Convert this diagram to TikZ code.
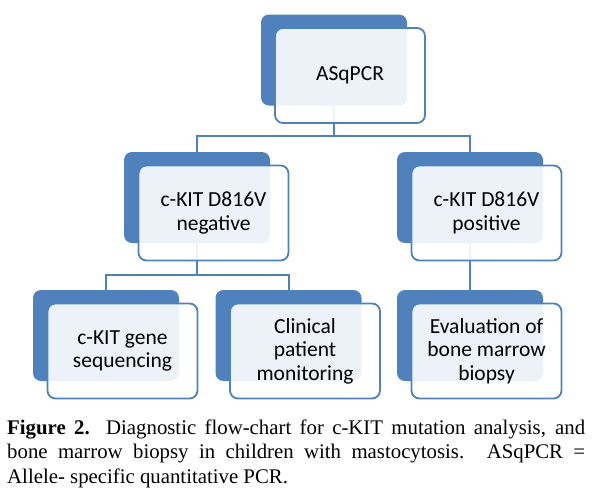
\documentclass[tikz,border=0pt]{standalone}
\usepackage{fontspec}
\setmainfont{Liberation Serif}
\newfontfamily\boxfont{Carlito}
\definecolor{accblue}{HTML}{4F81BD}
\begin{document}
\begin{tikzpicture}[x=1pt,y=-1pt,
  backbox/.style={fill=accblue, draw=none, rounded corners=8pt,
    minimum width=146pt, minimum height=91pt, inner sep=0pt},
  frontbox/.style={fill=white, fill opacity=0.9, text opacity=1,
    draw=accblue, line width=1.8pt, rounded corners=8pt,
    minimum width=150pt, minimum height=95pt, inner sep=0pt, align=center,
    font=\boxfont\fontsize{21.5}{23.5}\selectfont},
  link/.style={draw=accblue, line width=2pt}]
\useasboundingbox (0,0) rectangle (596,488);
% back boxes
\node[backbox] (aB) at (334,60) {};
\node[backbox] (nB) at (197,197.5) {};
\node[backbox] (pB) at (470,197.5) {};
\node[backbox] (sB) at (106,335.5) {};
\node[backbox] (cB) at (288.5,335.5) {};
\node[backbox] (eB) at (470,335.5) {};
% connectors
\coordinate (j1) at (334,136);
\coordinate (j2) at (197,275);
\draw[link] (aB.south) -- (j1) -| (nB.north);
\draw[link] (j1) -| (pB.north);
\draw[link] (nB.south) -- (j2) -| (sB.north);
\draw[link] (j2) -| (cB.north);
\draw[link] (pB.south) -- (eB.north);
% front boxes
\node[frontbox] (a) at (350,75.5) {ASqPCR};
\node[frontbox] (n) at (213.5,213) {c-KIT D816V\\negative};
\node[frontbox] (p) at (486.5,213) {c-KIT D816V\\positive};
\node[frontbox] (s) at (122.5,351) {c-KIT gene\\sequencing};
\node[frontbox] (c) at (305,351) {Clinical\\patient\\monitoring};
\node[frontbox] (e) at (486.5,351) {Evaluation of\\bone marrow\\biopsy};
% caption
\node[anchor=north west, inner sep=0pt, text width=578pt, align=justify,
  font=\fontsize{20.8}{24.5}\selectfont] (cap) at (7,419.5)
  {\tolerance=10000\hyphenpenalty=10000\textbf{Figure 2.} Diagnostic flow-chart for c-KIT mutation analysis, and\linebreak bone marrow biopsy in children with mastocytosis. ASqPCR =\linebreak Allele- specific quantitative PCR.};
\end{tikzpicture}
\end{document}
